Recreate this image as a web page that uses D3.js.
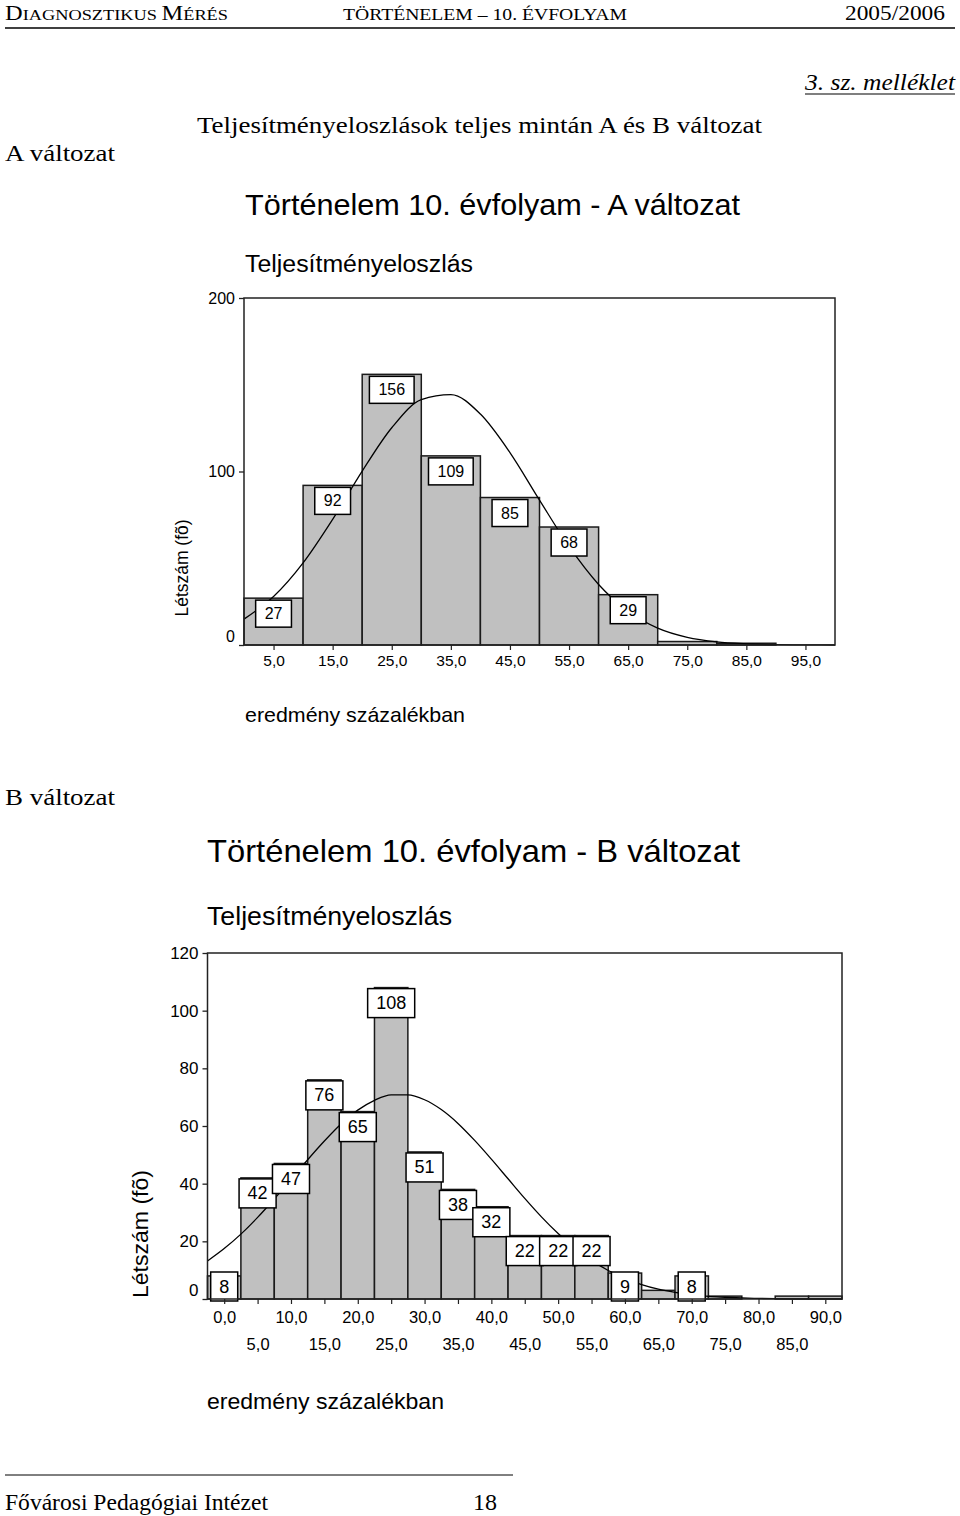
<!DOCTYPE html>
<html><head><meta charset="utf-8">
<script src="https://cdn.jsdelivr.net/npm/d3@7"></script>
<style>
html,body{margin:0;padding:0;background:#fff;}
svg{display:block;}
</style></head>
<body>
<svg id="page" width="960" height="1516"></svg>
<script>
// ---------- DATA ----------
// Chart A (10-point bins, centres)
const binsA = [5, 15, 25, 35, 45, 55, 65, 75, 85, 95];
const countsA = [27, 92, 156, 109, 85, 68, 29, 2, 1, 0];
const xTickLabelsA = ["5,0","15,0","25,0","35,0","45,0","55,0","65,0","75,0","85,0","95,0"];
const yTicksA = [0, 100, 200];
// fitted normal curve A
const curveAx = [0, 5, 10, 15, 20, 25, 30, 35, 40, 45, 50, 55, 60, 65, 70, 75, 80, 85, 90, 95, 100];
const curveAy = [14.9, 27.9, 47.3, 72.4, 100.2, 125.2, 141.4, 144.3, 133.1, 110.9, 83.5, 56.8, 34.9, 19.4, 9.7, 4.4, 1.8, 0.7, 0.2, 0.1, 0];

// Chart B (5-point bins, centres)
const binsB = [0, 5, 10, 15, 20, 25, 30, 35, 40, 45, 50, 55, 60, 65, 70, 75, 80, 85, 90];
const countsB = [8, 42, 47, 76, 65, 108, 51, 38, 32, 22, 22, 22, 9, 3, 8, 1, 0, 1, 1];
const xTickLabelsB = ["0,0","5,0","10,0","15,0","20,0","25,0","30,0","35,0","40,0","45,0","50,0","55,0","60,0","65,0","70,0","75,0","80,0","85,0","90,0"];
const yTicksB = [0, 20, 40, 60, 80, 100, 120];
const curveBx = [-2.5, 0, 2.5, 5, 7.5, 10, 12.5, 15, 17.5, 20, 22.5, 25, 27.5, 30, 32.5, 35, 37.5, 40, 42.5, 45, 47.5, 50, 52.5, 55, 57.5, 60, 62.5, 65, 67.5, 70, 72.5, 75, 77.5, 80, 82.5, 85, 87.5, 90, 92.5];
const curveBy = [13.2, 17.5, 22.5, 28.3, 34.7, 41.4, 48.3, 54.8, 60.7, 65.5, 68.9, 70.8, 70.8, 69.1, 65.7, 60.9, 55.0, 48.5, 41.7, 34.9, 28.5, 22.7, 17.6, 13.4, 9.9, 7.1, 5.0, 3.4, 2.3, 1.5, 0.9, 0.6, 0.35, 0.2, 0.1, 0.06, 0.03, 0.02, 0.01];

// ---------- DRAW ----------
const svg = d3.select("#page");
const SANS = "'Liberation Sans', Arial, sans-serif";
const SERIF = "'Liberation Serif', 'Times New Roman', serif";

function txt(x, y, s, opt) {
  const t = svg.append("text").attr("x", x).attr("y", y).text(s)
    .attr("font-family", opt.family || SANS)
    .attr("font-size", opt.size)
    .attr("fill", "#000");
  if (opt.anchor) t.attr("text-anchor", opt.anchor);
  if (opt.len) t.attr("textLength", opt.len).attr("lengthAdjust", "spacingAndGlyphs");
  if (opt.style) t.attr("font-style", opt.style);
  return t;
}

// Header
const hdr = svg.append("text").attr("x", 5).attr("y", 20).attr("font-family", SERIF).attr("fill", "#000")
  .attr("textLength", 223).attr("lengthAdjust", "spacingAndGlyphs");
[["D",20],["IAGNOSZTIKUS ",15],["M",20],["ÉRÉS",15]].forEach(([s, f]) => hdr.append("tspan").attr("font-size", f).text(s));
txt(343, 20, "TÖRTÉNELEM – 10. ÉVFOLYAM", {family: SERIF, size: 16, len: 284});
txt(945, 20, "2005/2006", {family: SERIF, size: 20, anchor: "end", len: 100});
svg.append("line").attr("x1", 5).attr("x2", 955).attr("y1", 28).attr("y2", 28).attr("stroke", "#000").attr("stroke-width", 1.5);

txt(955, 90, "3. sz. melléklet", {family: SERIF, size: 24, anchor: "end", len: 150, style: "italic"});
svg.append("line").attr("x1", 805).attr("x2", 955).attr("y1", 94).attr("y2", 94).attr("stroke", "#000").attr("stroke-width", 1.2);
txt(197, 133, "Teljesítményeloszlások teljes mintán A és B változat", {family: SERIF, size: 24, len: 565});
txt(5, 161, "A változat", {family: SERIF, size: 24, len: 110});
txt(5, 805, "B változat", {family: SERIF, size: 24, len: 110});

// Footer
svg.append("line").attr("x1", 5).attr("x2", 513).attr("y1", 1475).attr("y2", 1475).attr("stroke", "#000").attr("stroke-width", 1);
txt(5, 1510, "Fővárosi Pedagógiai Intézet", {family: SERIF, size: 23, len: 263});
txt(473, 1510, "18", {family: SERIF, size: 23, len: 24});

function histogram(cfg) {
  const g = svg.append("g");
  const x = d3.scaleLinear().domain(cfg.xDomain).range([cfg.left, cfg.right]);
  const y = d3.scaleLinear().domain(cfg.yDomain).range([cfg.bottom, cfg.top]);
  const w = cfg.binWidth;

  // bars
  const data = cfg.bins.map((b, i) => ({b, v: cfg.counts[i]})).filter(d => d.v > 0);
  g.selectAll("rect.bar").data(data).join("rect").attr("class", "bar")
    .attr("x", d => x(d.b - w / 2)).attr("width", d => x(d.b + w / 2) - x(d.b - w / 2))
    .attr("y", d => y(d.v)).attr("height", d => y(0) - y(d.v))
    .attr("fill", "#c0c0c0").attr("stroke", "#1a1a1a").attr("stroke-width", 1.5);

  // curve
  const line = d3.line().x(d => x(d[0])).y(d => y(d[1])).curve(d3.curveMonotoneX);
  g.append("path").datum(cfg.cx.map((v, i) => [v, cfg.cy[i]]))
    .attr("d", line).attr("fill", "none").attr("stroke", "#000").attr("stroke-width", 1.3);

  // value boxes
  const lab = data.filter(d => d.v >= 5);
  lab.forEach(d => {
    const gg = g.append("g");
    const t = gg.append("text").attr("font-family", SANS).attr("font-size", cfg.labSize)
      .attr("text-anchor", "middle").attr("x", x(d.b)).text(d.v);
    const tw = t.node().getComputedTextLength();
    const bw = tw + cfg.labPad;
    let top = y(d.v) + cfg.labOff;
    top = Math.min(top, y(0) + 2 - cfg.labH);
    gg.insert("rect", "text").attr("x", x(d.b) - bw / 2).attr("y", top).attr("width", bw).attr("height", cfg.labH)
      .attr("fill", "#fff").attr("stroke", "#000").attr("stroke-width", 1.5);
    t.attr("y", top + cfg.labH / 2).attr("dominant-baseline", "central");
  });

  // frame
  g.append("rect").attr("x", cfg.left).attr("y", cfg.top).attr("width", cfg.right - cfg.left).attr("height", cfg.bottom - cfg.top)
    .attr("fill", "none").attr("stroke", "#222").attr("stroke-width", 1.5);

  // y axis
  const ya = d3.axisLeft(y).tickValues(cfg.yTicks).tickSize(5).tickFormat(d3.format("d"));
  const yg = g.append("g").attr("transform", `translate(${cfg.left},0)`).call(ya);
  yg.select(".domain").remove();
  yg.selectAll("line").attr("stroke", "#222").attr("stroke-width", 1.3);
  yg.selectAll("text").attr("font-family", SANS).attr("font-size", cfg.tickSize).attr("fill", "#000").attr("x", -9)
    .attr("dy", d => d === 0 ? "-0.2em" : "0.32em");

  // x axis
  const xa = d3.axisBottom(x).tickValues(cfg.bins).tickSize(5).tickFormat((d, i) => cfg.xLabels[i]);
  const xg = g.append("g").attr("transform", `translate(0,${cfg.bottom})`).call(xa);
  xg.select(".domain").remove();
  xg.selectAll("line").attr("stroke", "#222").attr("stroke-width", 1.2);
  xg.selectAll("text").attr("font-family", SANS).attr("font-size", cfg.xTickSize).attr("fill", "#000")
    .attr("y", (d, i) => cfg.twoRows ? (i % 2 === 0 ? 12 : 39) : 10).attr("dy", "0.71em");

  // titles
  txt(cfg.tx, cfg.titleY, cfg.title, {size: cfg.titleSize, len: cfg.titleLen});
  txt(cfg.tx, cfg.subY, "Teljesítményeloszlás", {size: cfg.subSize, len: cfg.subLen});
  txt(cfg.tx, cfg.xtY, "eredmény százalékban", {size: cfg.xtSize, len: cfg.xtLen});
  svg.append("text").attr("transform", `translate(${cfg.ytX},${cfg.ytY}) rotate(-90)`)
    .attr("text-anchor", "middle").attr("font-family", SANS).attr("font-size", cfg.ytSize)
    .attr("textLength", cfg.ytLen).attr("lengthAdjust", "spacingAndGlyphs").text("Létszám (fõ)");
}

histogram({
  bins: binsA, counts: countsA, xLabels: xTickLabelsA, yTicks: yTicksA, cx: curveAx, cy: curveAy,
  xDomain: [0, 100], yDomain: [0, 200], binWidth: 10,
  left: 244, right: 835, top: 298, bottom: 645,
  labSize: 16, labPad: 18, labH: 27, labOff: 2,
  tickSize: 16, xTickSize: 15.5, twoRows: false,
  tx: 245, title: "Történelem 10. évfolyam - A változat", titleY: 215, titleSize: 29, titleLen: 495,
  subY: 272, subSize: 23, subLen: 228, xtY: 722, xtSize: 21, xtLen: 220,
  ytX: 188, ytY: 568, ytSize: 18, ytLen: 97
});

histogram({
  bins: binsB, counts: countsB, xLabels: xTickLabelsB, yTicks: yTicksB, cx: curveBx, cy: curveBy,
  xDomain: [-2.5, 92.5], yDomain: [0, 120], binWidth: 5,
  left: 207.5, right: 842, top: 953, bottom: 1299,
  labSize: 18, labPad: 17, labH: 29, labOff: 1,
  tickSize: 17, xTickSize: 16.5, twoRows: true,
  tx: 207, title: "Történelem 10. évfolyam - B változat", titleY: 862, titleSize: 32, titleLen: 533,
  subY: 925, subSize: 25, subLen: 245, xtY: 1409, xtSize: 22, xtLen: 237,
  ytX: 148, ytY: 1234, ytSize: 22, ytLen: 128
});
</script>
</body></html>
